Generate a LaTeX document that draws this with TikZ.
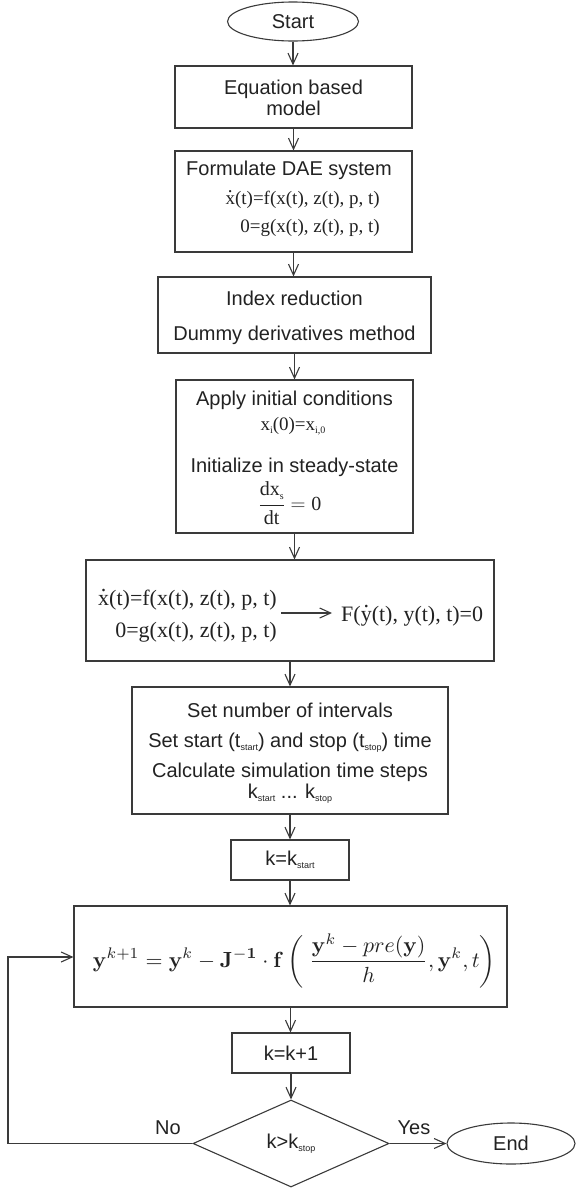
\documentclass[tikz,border=0pt]{standalone}
\usepackage[no-math]{fontspec}
\usepackage{graphicx}
\setmainfont{Liberation Sans}
\newfontfamily\tms{Liberation Serif}
\usetikzlibrary{shapes.geometric,arrows.meta,calc}
\definecolor{lc}{HTML}{3A3A3A}
\definecolor{tc}{HTML}{222222}
\newcommand{\dotover}[1]{\ooalign{#1\cr\hidewidth\smash{\raisebox{0.62em}{.}}\hidewidth\cr}}
\newcommand{\ssub}[1]{\raisebox{-0.3ex}{\fontsize{9}{9}\selectfont #1}}
\newcommand{\tsub}[1]{\raisebox{-0.35ex}{\fontsize{10}{10}\selectfont #1}}
\begin{document}
\begin{tikzpicture}[x=1pt,y=-1pt,
  box/.style={draw=lc, line width=1.1pt, rectangle, inner sep=0pt, text=tc, font=\fontsize{20}{24}\selectfont},
  term/.style={draw=lc, line width=1.1pt, ellipse, inner sep=0pt, text=tc, font=\fontsize{20}{24}\selectfont},
  dec/.style={draw=lc, line width=1.1pt, diamond, aspect=2.25, inner sep=0pt, text=tc, font=\fontsize{20}{24}\selectfont},
  txt/.style={anchor=base, inner sep=0pt, text=tc, font=\fontsize{20}{24}\selectfont},
  ser/.style={anchor=base, inner sep=0pt, text=tc, font=\tms\fontsize{19}{24}\selectfont},
  bigser/.style={inner sep=0pt, text=tc, font=\tms\fontsize{22}{24}\selectfont},
  arr/.style={draw=lc, line width=1.1pt, -{Straight Barb[length=11pt,width=10pt]}},
]
\useasboundingbox (0,0) rectangle (576,1189);

% Start
\node[term, minimum width=131pt, minimum height=39pt] (start) at (293,21.5) {Start};

% Equation based model
\node[box, minimum width=237pt, minimum height=62pt] (model) at (293.5,97) {};
\node[txt] (model1) at (293.5,94) {Equation based};
\node[txt] (model2) at (293.5,115) {model};

% Formulate DAE
\node[box, minimum width=237pt, minimum height=101pt] (dae) at (293.5,201.5) {};
\node[txt] (dae1) at (289,175) {Formulate DAE system};
\node[ser, anchor=base east] (dae2) at (380,204) {\dotover{x}(t)=f(x(t), z(t), p, t)};
\node[ser, anchor=base east] (dae3) at (380,232) {0=g(x(t), z(t), p, t)};

% Index reduction
\node[box, minimum width=273pt, minimum height=76pt] (index) at (294.5,315) {};
\node[txt] (index1) at (294.5,305) {Index reduction};
\node[txt] (index2) at (294.5,340) {Dummy derivatives method};

% Initial conditions
\node[box, minimum width=237pt, minimum height=153pt] (init) at (294.5,456.5) {};
\node[txt] (init1) at (294.5,405) {Apply initial conditions};
\node[ser] (init2) at (293,430) {x\tsub{i}(0)=x\tsub{i,0}};
\node[txt] (init3) at (294.5,472) {Initialize in steady-state};
\node[ser, font=\tms\fontsize{20}{24}\selectfont] (init4) at (290,510) {$\displaystyle\frac{\mbox{dx\tsub{s}}}{\mbox{dt}}=\mbox{0}$};

% Transformation
\node[box, minimum width=408pt, minimum height=101pt] (trans) at (290,610.5) {};
\node[bigser, anchor=base east] (lhs1) at (277,605) {\dotover{x}(t)=f(x(t), z(t), p, t)};
\node[bigser, anchor=base east] (lhs2) at (277,637) {0=g(x(t), z(t), p, t)};
\node[bigser, anchor=base west] (rhs) at (341,621) {F(\dotover{y}(t), y(t), t)=0};
\coordinate (ay) at (0,613);
\draw[arr] ($(lhs1.east |- ay)+(4,0)$) -- ($(rhs.west |- ay)+(-9,0)$);

% Set number of intervals
\node[box, minimum width=316pt, minimum height=127pt] (setn) at (290,750.5) {};
\node[txt] (setn1) at (290,717) {Set number of intervals};
\node[txt] (setn2) at (290,747) {Set start (t\ssub{start}) and stop (t\ssub{stop}) time};
\node[txt] (setn3) at (290,777) {Calculate simulation time steps};
\node[txt] (setn4) at (290,798) {k\ssub{start} ... k\ssub{stop}};

% k = k_start
\node[box, minimum width=118pt, minimum height=40pt] (kstart) at (290,860) {k=k\ssub{start}};

% Newton step
\node[box, minimum width=433pt, minimum height=101pt] (eqn) at (290.5,956.5) {};
\node[inner sep=0pt, text=tc] (eqnt) at (294.5,961) {\resizebox{403pt}{!}{$\displaystyle \mathbf{y}^{k+1}=\mathbf{y}^{k}-\mathbf{J}^{\mathbf{-1}}\cdot\mathbf{f}\left(\;\frac{\mathbf{y}^{k}-pre(\mathbf{y})}{h},\mathbf{y}^{k},t\right)$}};

% k = k+1
\node[box, minimum width=118pt, minimum height=40pt] (kinc) at (291,1053) {k=k+1};

% decision
\node[dec, minimum width=196pt, minimum height=87pt] (dia) at (291,1143.5) {k>k\ssub{stop}};

% End
\node[term, minimum width=128pt, minimum height=41pt] (end) at (511,1143.5) {End};

\node[txt] (no) at (168,1134) {No};
\node[txt] (yes) at (414,1134) {Yes};

% connectors
\draw[arr] (start.south) -- (start.south |- model.north);
\draw[arr] (model.south) -- (model.south |- dae.north);
\draw[arr] (dae.south) -- (dae.south |- index.north);
\draw[arr] (index.south) -- (index.south |- init.north);
\draw[arr] (init.south) -- (init.south |- trans.north);
\draw[arr] (trans.south) -- (trans.south |- setn.north);
\draw[arr] (setn.south) -- (setn.south |- kstart.north);
\draw[arr] (kstart.south) -- (kstart.south |- eqn.north);
\draw[arr] (eqn.south) -- (eqn.south |- kinc.north);
\draw[arr] (kinc.south) -- (kinc.south |- dia.north);
\coordinate (lp) at (8,957);
\draw[arr] (dia.west) -| (lp) -- (eqn.west |- lp);
\draw[arr] (dia.east) -- (end.west);
\end{tikzpicture}
\end{document}
